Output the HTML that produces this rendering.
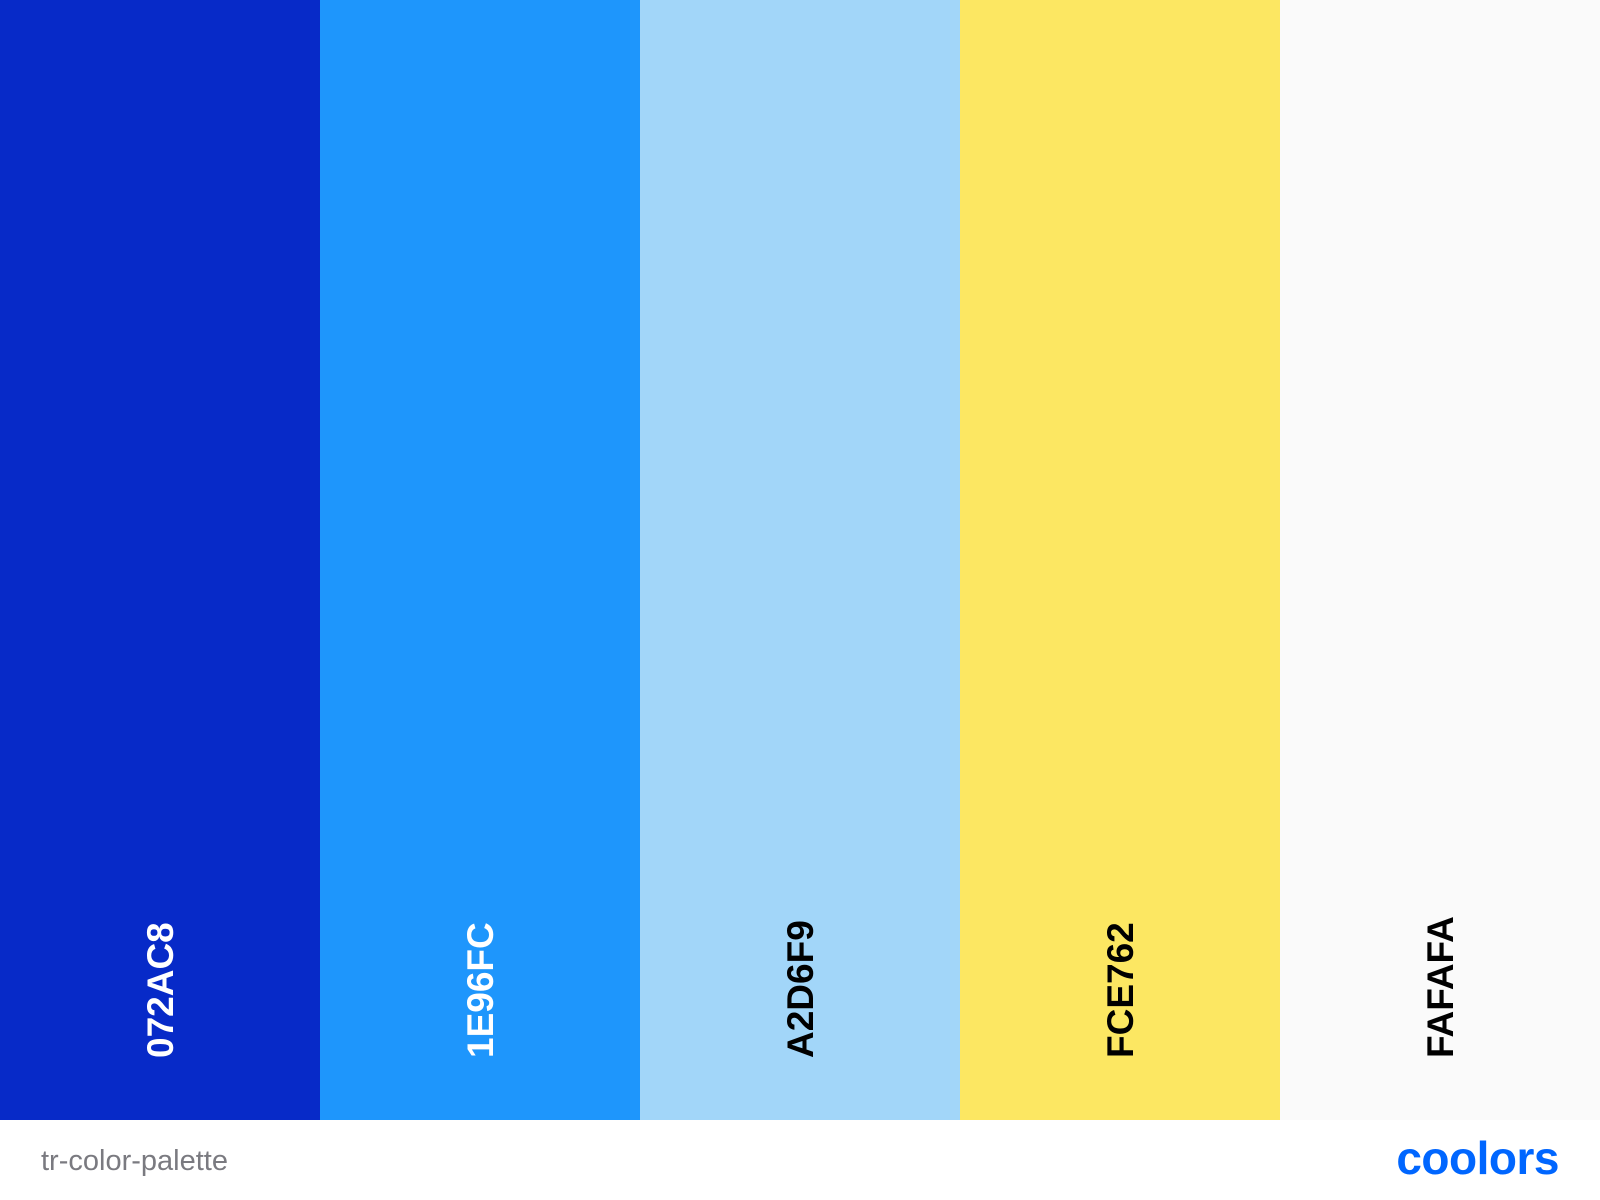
<!DOCTYPE html>
<html>
<head>
<meta charset="utf-8">
<style>
html,body{margin:0;padding:0;background:#fff;}
svg{display:block;}
</style>
</head>
<body>
<svg id="chart" width="1600" height="1200" viewBox="0 0 1600 1200" xmlns="http://www.w3.org/2000/svg">
  <rect x="0" y="0" width="1600" height="1200" fill="#ffffff"/>
  <g id="stripes"></g>
  <text x="41" y="1170" font-family="Liberation Sans, sans-serif" font-size="29" fill="#7a7a80">tr-color-palette</text>
  <text x="1559" y="1174" text-anchor="end" font-family="Liberation Sans, sans-serif" font-size="46" font-weight="bold" fill="#0066ff" letter-spacing="-0.5">coolors</text>
</svg>
<script>
const hexCodes = ["072AC8", "1E96FC", "A2D6F9", "FCE762", "FAFAFA"];
const labelColors = ["#ffffff", "#ffffff", "#000000", "#000000", "#000000"];

const W = 1600, stripeH = 1120, labelBottom = 1058;
const g = document.getElementById('stripes');
const ns = 'http://www.w3.org/2000/svg';
const sw = W / hexCodes.length;
hexCodes.forEach((hex, i) => {
  const r = document.createElementNS(ns, 'rect');
  r.setAttribute('x', i * sw);
  r.setAttribute('y', 0);
  r.setAttribute('width', sw + 0.5);
  r.setAttribute('height', stripeH);
  r.setAttribute('fill', '#' + hex);
  
  
  g.appendChild(r);
  const t = document.createElementNS(ns, 'text');
  const cx = i * sw + sw / 2 + 13;
  t.setAttribute('x', cx);
  t.setAttribute('y', labelBottom);
  t.setAttribute('transform', 'rotate(-90 ' + cx + ' ' + labelBottom + ')');
  t.setAttribute('font-family', 'Liberation Sans, sans-serif');
  t.setAttribute('font-size', '37');
  t.setAttribute('font-weight', 'bold');
  t.setAttribute('fill', labelColors[i]);
  t.textContent = hex;
  
  
  g.appendChild(t);
});
</script>
</body>
</html>
